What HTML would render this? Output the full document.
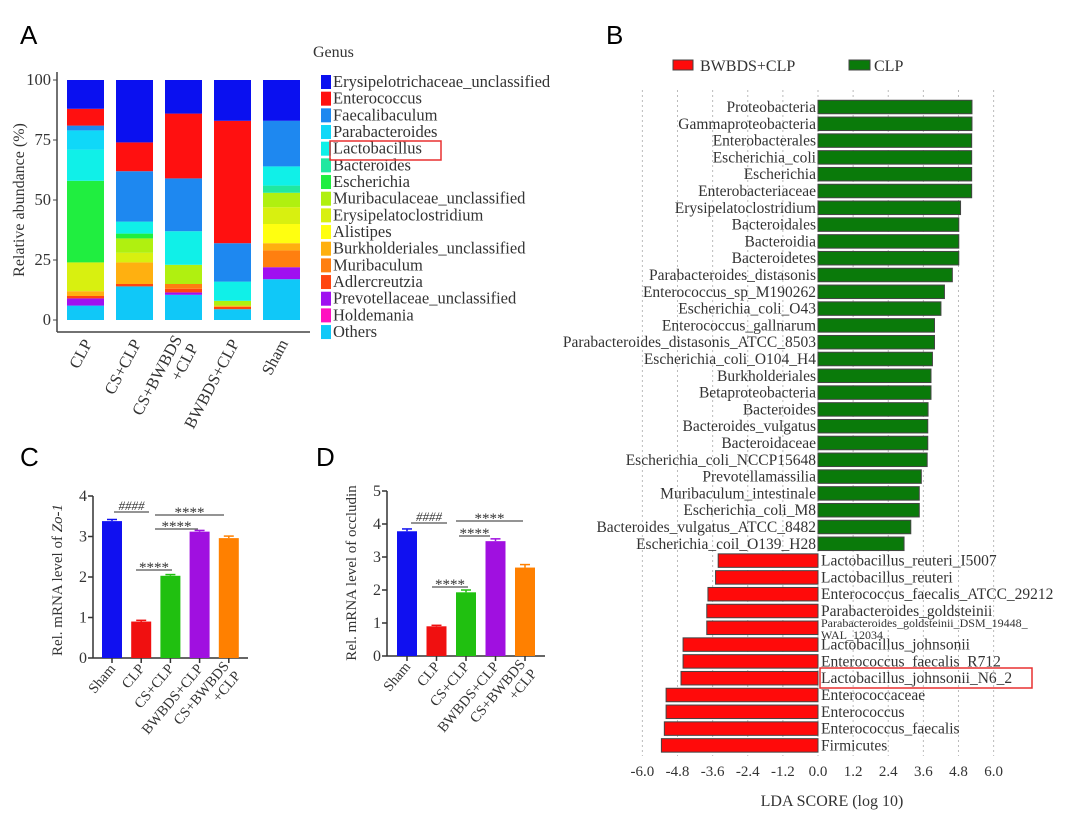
<!DOCTYPE html>
<html><head><meta charset="utf-8"><style>
html,body{margin:0;padding:0;background:#fff;}
svg{display:block;}
text{font-family:"Liberation Serif",serif;fill:#333;}
.pl{font-family:"Liberation Sans",sans-serif;font-size:26px;fill:#000;}
</style></head><body>
<svg id="fig" width="1080" height="818" viewBox="0 0 1080 818" xmlns="http://www.w3.org/2000/svg">
<rect width="1080" height="818" fill="#fff"/>
<text class="pl" x="20" y="44">A</text>
<text class="pl" x="606" y="44">B</text>
<text class="pl" x="20" y="466">C</text>
<text class="pl" x="316" y="466">D</text>
<g id="pa"></g>
<g id="pb"></g>
<g id="pc"></g>
<g id="pd"></g>
</svg>
<script>
// ---------- Panel A data ----------
const genera = ["Erysipelotrichaceae_unclassified","Enterococcus","Faecalibaculum","Parabacteroides","Lactobacillus","Bacteroides","Escherichia","Muribaculaceae_unclassified","Erysipelatoclostridium","Alistipes","Burkholderiales_unclassified","Muribaculum","Adlercreutzia","Prevotellaceae_unclassified","Holdemania","Others"];
const genusColors = ["#0a10f0","#ff1010","#1e88f0","#10d8f8","#10f0e8","#20e8a0","#20ee40","#b0f010","#d8f010","#ffff10","#ffb010","#ff7f10","#ff4510","#a010f0","#ff10c0","#10c8f8"];
const groupsA = ["CLP","CS+CLP","CS+BWBDS\n+CLP","BWBDS+CLP","Sham"];
const abundCLP   = [12,7,2,8,13,0,34,0,12,0,2,0,1,3,0,6];
const abundCS    = [26,12,21,0,5,0,2,6,4,0,9,0,1,0,0,14];
const abundCSBW  = [14,27,22,0,14,0,0,8,0,0,0,2,1.5,1,0,10.5];
const abundBW    = [17,51,16,0,8,0,0,2,0,0,0.5,0,1,0,0,4.5];
const abundSham  = [17,0,19,0,8,3,0,6,7,8,3,7,0,5,0,17];
const abundA = [abundCLP,abundCS,abundCSBW,abundBW,abundSham];
const ticksA = [0,25,50,75,100];

// ---------- Panel B data ----------
const ldaNames = ["Proteobacteria","Gammaproteobacteria","Enterobacterales","Escherichia_coli","Escherichia","Enterobacteriaceae","Erysipelatoclostridium","Bacteroidales","Bacteroidia","Bacteroidetes","Parabacteroides_distasonis","Enterococcus_sp_M190262","Escherichia_coli_O43","Enterococcus_gallnarum","Parabacteroides_distasonis_ATCC_8503","Escherichia_coli_O104_H4","Burkholderiales","Betaproteobacteria","Bacteroides","Bacteroides_vulgatus","Bacteroidaceae","Escherichia_coli_NCCP15648","Prevotellamassilia","Muribaculum_intestinale","Escherichia_coli_M8","Bacteroides_vulgatus_ATCC_8482","Escherichia_coil_O139_H28","Lactobacillus_reuteri_I5007","Lactobacillus_reuteri","Enterococcus_faecalis_ATCC_29212","Parabacteroides_goldsteinii","Parabacteroides_goldsteinii_DSM_19448_WAL_12034","Lactobacillus_johnsonii","Enterococcus_faecalis_R712","Lactobacillus_johnsonii_N6_2","Enterococcaceae","Enterococcus","Enterococcus_faecalis","Firmicutes"];
const ldaScores = [5.26,5.26,5.25,5.25,5.25,5.25,4.87,4.81,4.81,4.81,4.59,4.32,4.2,3.98,3.98,3.91,3.86,3.86,3.76,3.75,3.75,3.73,3.53,3.46,3.46,3.17,2.94,-3.41,-3.5,-3.76,-3.8,-3.8,-4.61,-4.61,-4.68,-5.19,-5.19,-5.25,-5.35];
const ldaTicks = [-6,-4.8,-3.6,-2.4,-1.2,0,1.2,2.4,3.6,4.8,6];

// ---------- Panel C/D data ----------
const groupsCD = ["Sham","CLP","CS+CLP","BWBDS+CLP","CS+BWBDS\n+CLP"];
const barColorsCD = ["#1010f0","#f01010","#20c010","#a010e0","#ff8000"];
const zo1Values = [3.38,0.9,2.03,3.12,2.96];
const zo1Err = [0.04,0.03,0.03,0.03,0.05];
const occValues = [3.78,0.9,1.93,3.48,2.68];
const occErr = [0.07,0.03,0.07,0.07,0.09];
const zo1Ticks = [0,1,2,3,4];
const occTicks = [0,1,2,3,4,5];

const NS="http://www.w3.org/2000/svg";
function mk(tag,attrs,parent,txt){const e=document.createElementNS(NS,tag);for(const k in attrs)e.setAttribute(k,attrs[k]);if(txt!==undefined)e.textContent=txt;parent.appendChild(e);return e;}

// ---------- Panel A ----------
(function(){
  const g=document.getElementById('pa');
  const y0=320,y100=80,axX=57,axY=332;
  const yA=v=>y0-(v/100)*(y0-y100);
  const barX0=67,barStep=49,barW=37;
  const xA=i=>barX0+i*barStep;
  const yl=mk('line',{x1:axX,y1:72,x2:axX,y2:axY,stroke:'#444','stroke-width':1.5},g);
  
  const xl=mk('line',{x1:axX,y1:axY,x2:310,y2:axY,stroke:'#444','stroke-width':1.5},g);
  
  ticksA.forEach(t=>{
    const tl=mk('text',{x:51,y:yA(t)+5,'text-anchor':'end','font-size':16.5},g,String(t));
    
    mk('line',{x1:axX-4,y1:yA(t),x2:axX,y2:yA(t),stroke:'#444'},g);
  });
  const yt=mk('text',{x:0,y:0,'text-anchor':'middle','font-size':16,transform:'translate(24,200) rotate(-90)'},g,'Relative abundance (%)');
  
  abundA.forEach((vals,i)=>{
    let cum=0;
    for(let k=vals.length-1;k>=0;k--){
      const v=vals[k]; if(v<=0)continue;
      const r=mk('rect',{x:xA(i),y:yA(cum+v),width:barW,height:yA(cum)-yA(cum+v),fill:genusColors[k]},g);
      
      cum+=v;
    }
    const cx=xA(i)+barW/2+7;
    const lines=groupsA[i].split('\n');
    const t=mk('text',{x:0,y:0,'text-anchor':'end','font-size':16.5,transform:`translate(${cx},343) rotate(-62)`},g);
    
    lines.forEach((ln,j)=>{mk('tspan',{x:0,dy:j===0?(lines.length>1?-9:0):18},t,ln);});
  });
  const gt=mk('text',{x:313,y:57,'font-size':16},g,'Genus');
  
  genera.forEach((n,k)=>{
    const yy=82+k*16.67;
    const s=mk('rect',{x:321,y:yy-7,width:10,height:14,fill:genusColors[k]},g);
    
    const t=mk('text',{x:333,y:yy+5,'font-size':16.5},g,n);
    
  });
  const hb=mk('rect',{x:330,y:141,width:111,height:19,fill:'none',stroke:'#e83030','stroke-width':1.5},g);
  
})();

// ---------- Panel B ----------
(function(){
  const g=document.getElementById('pb');
  const x0=818,pxPer=29.27,rowY0=107,rowStep=16.8,bh=13.5;
  const xB=v=>x0+v*pxPer;
  const yB=i=>rowY0+i*rowStep;
  ldaTicks.forEach(t=>{
    const gl=mk('line',{x1:xB(t),y1:90,x2:xB(t),y2:756,stroke:'#bbb','stroke-dasharray':'2,3'},g);
    
    const tl=mk('text',{x:xB(t),y:776,'text-anchor':'middle','font-size':15},g,t.toFixed(1));
    
  });
  ldaScores.forEach((v,i)=>{
    const pos=v>=0;
    const r=mk('rect',{x:pos?xB(0):xB(v),y:yB(i)-bh/2,width:Math.abs(xB(v)-xB(0)),height:bh,fill:pos?'#0a7a0a':'#ff0a0a',stroke:'#444','stroke-width':1},g);
    
    const nm=ldaNames[i];
    if(nm.indexOf('DSM_19448')>=0){
      const t=mk('text',{x:xB(0)+3,y:yB(i)-1,'font-size':12},g,'Parabacteroides_goldsteinii_DSM_19448_');
      
      const t2=mk('text',{x:xB(0)+3,y:yB(i)+11,'font-size':12},g,'WAL_12034');
      
    } else {
      const t=mk('text',{x:pos?xB(0)-2:xB(0)+3,y:yB(i)+5,'text-anchor':pos?'end':'start','font-size':15.5},g,nm);
      
    }
  });
  const hb=mk('rect',{x:820,y:668,width:212,height:20,fill:'none',stroke:'#e83030','stroke-width':1.5},g);
  
  const at=mk('text',{x:832,y:806,'text-anchor':'middle','font-size':16},g,'LDA SCORE (log 10)');
  
  const l1=mk('rect',{x:673,y:60,width:20,height:10,fill:'#ff0a0a',stroke:'#444'},g);
  
  const lt1=mk('text',{x:700,y:71,'font-size':16},g,'BWBDS+CLP');
  
  const l2=mk('rect',{x:849,y:60,width:21,height:10,fill:'#0a7a0a',stroke:'#444'},g);
  
  const lt2=mk('text',{x:874,y:71,'font-size':16},g,'CLP');
  
})();

// ---------- Panels C & D ----------
function barPanel(id,vals,errs,ticks,cfg){
  const g=document.getElementById(id);
  const yS=v=>cfg.y0-v*cfg.per;
  const xS=i=>cfg.bx0+i*cfg.step;
  const ya=mk('line',{x1:cfg.ax,y1:yS(ticks[ticks.length-1]),x2:cfg.ax,y2:cfg.y0,stroke:'#333','stroke-width':1.5},g);
  
  const xa=mk('line',{x1:cfg.ax,y1:cfg.y0,x2:cfg.axEnd,y2:cfg.y0,stroke:'#333','stroke-width':1.5},g);
  
  ticks.forEach(t=>{
    mk('line',{x1:cfg.ax-5,y1:yS(t),x2:cfg.ax,y2:yS(t),stroke:'#333','stroke-width':1.5},g);
    const tl=mk('text',{x:cfg.ax-6,y:yS(t)+5,'text-anchor':'end','font-size':16},g,String(t));
    
  });
  vals.forEach((v,i)=>{
    const r=mk('rect',{x:xS(i),y:yS(v),width:cfg.bw,height:cfg.y0-yS(v),fill:barColorsCD[i]},g);
    
    const cx=xS(i)+cfg.bw/2;
    mk('line',{x1:cx,y1:yS(v+errs[i]),x2:cx,y2:yS(v),stroke:barColorsCD[i],'stroke-width':1.5},g);
    mk('line',{x1:cx-5,y1:yS(v+errs[i]),x2:cx+5,y2:yS(v+errs[i]),stroke:barColorsCD[i],'stroke-width':1.5},g);
    mk('line',{x1:cx,y1:cfg.y0,x2:cx,y2:cfg.y0+5,stroke:'#333','stroke-width':1.5},g);
    const lines=groupsCD[i].split('\n');
    const t=mk('text',{x:0,y:0,'text-anchor':'end','font-size':14.5,transform:`translate(${cx+4},${cfg.y0+11}) rotate(-50)`},g);
    
    lines.forEach((ln,j)=>{mk('tspan',{x:0,dy:j===0?(lines.length>1?-4:0):15},t,ln);});
  });
  cfg.sig.forEach(s=>{
    const l=mk('line',{x1:s[0],y1:s[2],x2:s[1],y2:s[2],stroke:'#555','stroke-width':1.2},g);
    
    const t=mk('text',{x:(s[0]+s[1])/2,y:s[3]==='####'?s[2]-2:s[2]+2,'text-anchor':'middle','font-size':s[3]==='####'?13:15,'font-style':s[3]==='####'?'italic':'normal'},g,s[3]);
    
  });
  const yt=mk('text',{x:0,y:0,'text-anchor':'middle','font-size':15,transform:`translate(${cfg.ylx},${cfg.yly}) rotate(-90)`},g);
  
  mk('tspan',{},yt,cfg.yl1);
  if(cfg.yl2) mk('tspan',{'font-style':'italic'},yt,cfg.yl2);
}
barPanel('pc',zo1Values,zo1Err,zo1Ticks,{y0:658,per:40.5,ax:93,axEnd:248,bx0:102,step:29.2,bw:20,
  sig:[[114,149,512,'####'],[155,224,515,'****'],[155,198,529,'****'],[136,172,570,'****']],
  ylx:62,yly:580,yl1:'Rel. mRNA level of ',yl2:'Zo-1'});
barPanel('pd',occValues,occErr,occTicks,{y0:656,per:33,ax:387,axEnd:545,bx0:397,step:29.5,bw:20,
  sig:[[411,447,523,'####'],[456,523,521,'****'],[459,490,536,'****'],[432,468,587,'****']],
  ylx:356,yly:573,yl1:'Rel. mRNA level of occludin',yl2:''});
</script>
</body></html>
